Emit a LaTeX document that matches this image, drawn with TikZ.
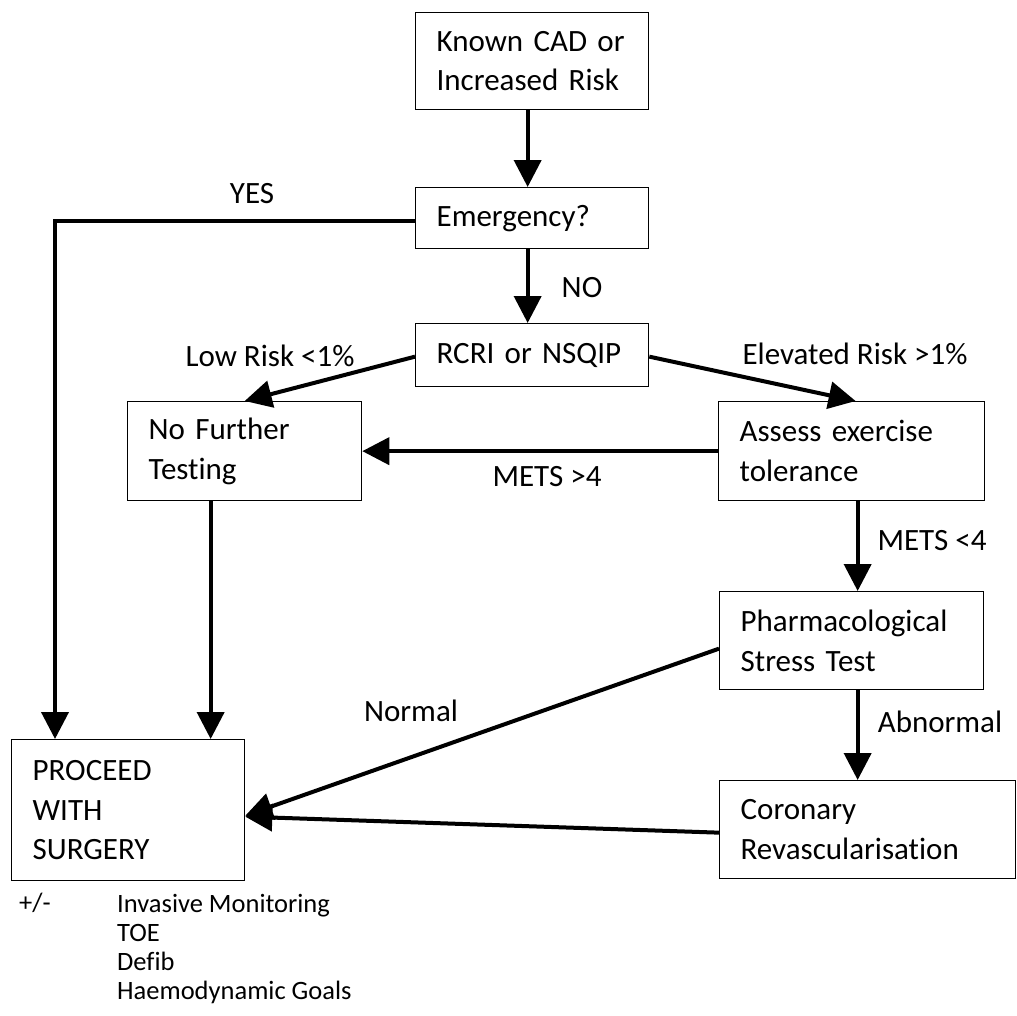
\documentclass[tikz,border=0pt]{standalone}
\usepackage{fontspec}
\setmainfont{Carlito}[Ligatures=NoCommon]
\usetikzlibrary{arrows.meta}
\begin{document}
\begin{tikzpicture}[x=1pt,y=-1pt,
  box/.style={draw,line width=1.3pt,anchor=north west,align=left,
    inner xsep=21pt,inner ysep=0pt,font=\fontsize{31}{39.5}\selectfont},
  flow/.style={line width=4pt,-{Triangle[length=27pt,width=27pt]}},
  lbl/.style={font=\fontsize{31}{36}\selectfont,inner sep=0pt},
  note/.style={font=\fontsize{26.5}{29}\selectfont,inner sep=0pt,align=left}]
\useasboundingbox[fill=white] (0,0) rectangle (1017,1015);

% boxes
\node[box,text width=191pt,minimum height=97pt] (cad) at (415,12) {Known CAD or\\Increased Risk};
\node[box,text width=191pt,minimum height=61pt] (emerg) at (415,187) {Emergency?};
\node[box,text width=191pt,minimum height=63pt] (rcri) at (415,323) {RCRI or NSQIP};
\node[box,text width=192pt,minimum height=99pt] (nft) at (127,401) {No Further\\Testing};
\node[box,text width=224pt,minimum height=99pt] (assess) at (718,401) {Assess exercise\\tolerance};
\node[box,text width=222pt,minimum height=98pt] (pharm) at (719,591) {Pharmacological\\Stress Test};
\node[box,text width=254pt,minimum height=98pt] (cor) at (719,780) {Coronary\\Revascularisation};
\node[box,text width=191pt,minimum height=141pt] (proceed) at (11,739) {PROCEED\\WITH\\SURGERY};

% connectors
\draw[flow] ([xshift=-4.5pt]cad.south) -- ([xshift=-4.5pt]emerg.north);
\draw[flow] ([yshift=-2.5pt]emerg.west) -- ++(-360,0) coordinate (ycorner) -- (ycorner |- proceed.north);
\draw[flow] ([xshift=-4.5pt]emerg.south) -- ([xshift=-4.5pt]rcri.north);
\draw[flow] ([yshift=-1.5pt]rcri.west) -- (nft.north);
\draw[flow] ([yshift=-1.5pt]rcri.east) -- ([xshift=4pt]assess.north);
\draw[flow] (assess.west) -- (nft.east);
\draw[flow] ([xshift=6pt]assess.south) -- ([xshift=6pt]pharm.north);
\draw[flow] ([xshift=-34pt]nft.south) -- ([xshift=-34pt]nft.south |- proceed.north);
\draw[flow] ([yshift=-8pt]pharm.west) -- ([yshift=-5.5pt]proceed.east);
\draw[flow] ([xshift=6pt]pharm.south) -- ([xshift=-10pt]cor.north);
\draw[flow] ([yshift=-3pt]cor.west) -- ([yshift=-6.5pt]proceed.east);

% connector labels
\node[lbl] (lyes) at (252,194) {YES};
\node[lbl] (lno) at (582,288) {NO};
\node[lbl] (llow) at (270,356) {Low Risk <1\%};
\node[lbl] (lelev) at (855,354) {Elevated Risk >1\%};
\node[lbl] (lgt) at (547,477) {METS >4};
\node[lbl] (llt) at (932,541) {METS <4};
\node[lbl] (lnorm) at (411,711) {Normal};
\node[lbl] (labn) at (940,722) {Abnormal};

% notes under the final box
\node[note,anchor=base west] (pm) at (19,911) {+/-};
\node[note,anchor=north west] (extras) at (117,894) {Invasive Monitoring\\TOE\\Defib\\Haemodynamic Goals};
\end{tikzpicture}
\end{document}
